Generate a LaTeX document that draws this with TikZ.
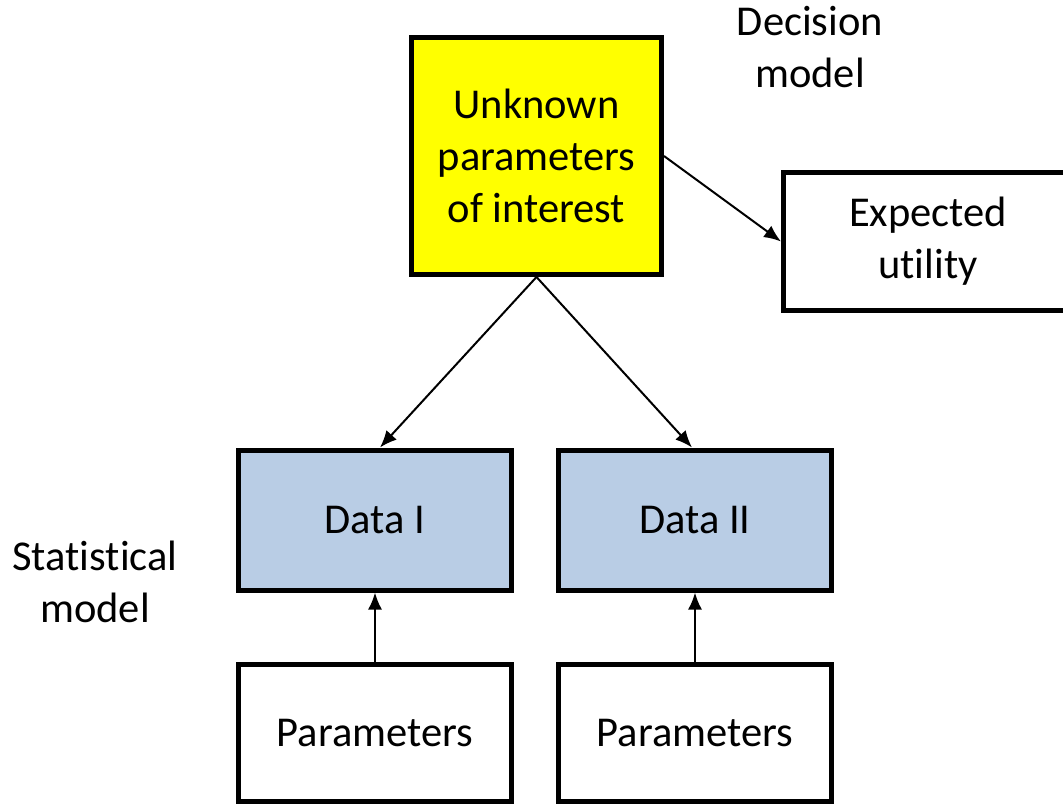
\documentclass[tikz,border=0pt]{standalone}
\usepackage{fontspec}
\setmainfont{Carlito}[Ligatures=NoCommon]
\usetikzlibrary{arrows.meta}
\definecolor{boxyellow}{HTML}{FFFF00}
\definecolor{boxblue}{HTML}{B9CDE5}
\begin{document}
\begin{tikzpicture}[x=1pt,y=-1pt,
  every node/.style={font=\fontsize{42.5}{52}\selectfont, align=center},
  blockbox/.style={draw=black, line width=5pt, inner sep=0pt},
  conn/.style={line width=2pt, -{Latex[length=17pt,width=14pt]}},
  caption/.style={inner sep=0pt}]
  \useasboundingbox (0,0) rectangle (1063,804);

  % decision part
  \node[blockbox, fill=boxyellow, minimum width=250pt, minimum height=237pt]
    (unk) at (536.5,156) {Unknown\\parameters\\of interest};
  \node[blockbox, fill=white, minimum width=289pt, minimum height=138pt]
    (eu) at (928,241.5) {Expected\\utility};
  \node[caption] (declab) at (810,47) {Decision\\model};

  % statistical part
  \node[blockbox, fill=boxblue, minimum width=273pt, minimum height=140pt]
    (d1) at (375,520) {Data I};
  \node[blockbox, fill=boxblue, minimum width=273pt, minimum height=140pt]
    (d2) at (695,520) {Data II};
  \node[blockbox, fill=white, minimum width=273pt, minimum height=137pt]
    (p1) at (375,733) {Parameters};
  \node[blockbox, fill=white, minimum width=273pt, minimum height=137pt]
    (p2) at (695,733) {Parameters};
  \node[caption] (statlab) at (95,582) {Statistical\\model};

  % connectors
  \draw[conn] (unk.east) -- (eu.west);
  \draw[conn] (unk.south) -- ([xshift=5pt]d1.north);
  \draw[conn] (unk.south) -- ([xshift=-3pt]d2.north);
  \draw[conn] (p1.north) -- (d1.south);
  \draw[conn] (p2.north) -- (d2.south);
\end{tikzpicture}
\end{document}
